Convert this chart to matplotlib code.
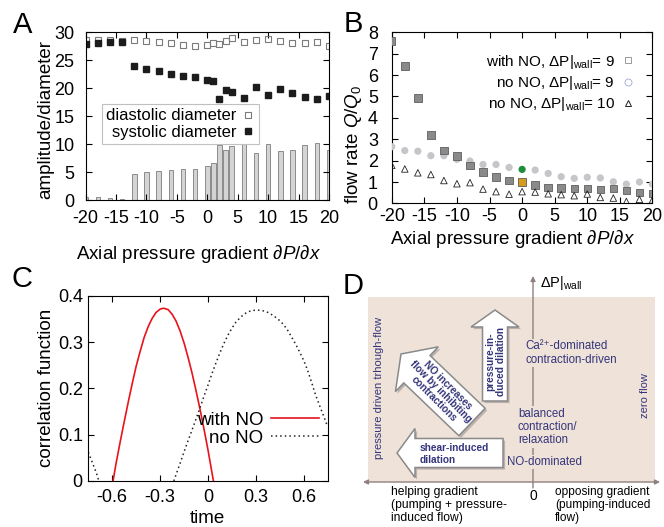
import matplotlib
matplotlib.use("Agg")
import matplotlib.pyplot as plt
import matplotlib.patheffects as pe
from matplotlib.lines import Line2D
from matplotlib.patches import Rectangle, FancyArrow

plt.rcParams["font.family"] = ["Liberation Sans", "DejaVu Sans"]
plt.rcParams["mathtext.fontset"] = "custom"
plt.rcParams["mathtext.rm"] = "Liberation Sans"
plt.rcParams["mathtext.it"] = "Liberation Sans:italic"
plt.rcParams["mathtext.bf"] = "Liberation Sans:bold"
plt.rcParams["axes.unicode_minus"] = False

# ---- panel A: diameters and amplitude vs axial gradient
grad_a = [-20, -18, -16, -14, -12, -10, -8, -6, -4, -2, 0, 1, 2, 3, 4,
          6, 8, 10, 12, 14, 16, 18, 20]
diastolic = [28.7, 28.6, 28.6, 28.5, 28.7, 28.4, 28.2, 28.0, 27.8, 27.6, 27.7,
             28.0, 27.9, 28.5, 28.9, 28.3, 28.6, 28.8, 28.5, 28.0, 28.1, 28.3, 27.6]
systolic = [27.9, 28.0, 28.2, 28.2, 23.9, 23.4, 23.0, 22.6, 22.1, 22.0, 21.5,
            21.3, 18.0, 19.6, 19.3, 18.2, 20.2, 18.8, 19.8, 19.1, 18.4, 18.0, 18.7]
amplitude = [0.6, 0.5, 0.35, 0.2, 4.7, 5.0, 5.2, 5.4, 5.6, 5.6, 6.1, 6.7, 9.9,
             9.0, 9.7, 10.2, 8.5, 10.0, 8.8, 8.9, 9.8, 10.2, 8.9]

# ---- panel B: flow rate
grad_b = [-20, -18, -16, -14, -12, -10, -8, -6, -4, -2, 0, 2, 4, 6, 8, 10,
          12, 14, 16, 18, 20]
q_with_no = [7.6, 6.43, 4.93, 3.2, 2.48, 2.22, 1.78, 1.47, 1.23, 1.08, 1.0,
             0.86, 0.75, 0.73, 0.69, 0.69, 0.66, 0.69, 0.61, 0.51, 0.47]
q_no_no_9 = [2.65, 2.47, 2.44, 2.23, 2.23, 2.06, 1.98, 1.82, 1.82, 1.68, 1.59,
             1.56, 1.40, 1.25, 1.17, 1.22, 1.19, 1.01, 0.90, 1.0, 0.90]
q_no_no_10 = [1.78, 1.61, 1.43, 1.35, 1.07, 0.92, 0.97, 0.67, 0.55, 0.43, 0.55,
              0.53, 0.45, 0.41, 0.36, 0.44, 0.28, 0.25, 0.09, 0.19, 0.16]
labels_b = ["with NO, ΔP$|_{\\rm wall}$= 9", "no NO, ΔP$|_{\\rm wall}$= 9",
            "no NO, ΔP$|_{\\rm wall}$= 10"]

# ---- panel C: correlation functions
t_with = [-0.595, -0.575, -0.55, -0.525, -0.5, -0.475, -0.45, -0.425, -0.4,
          -0.375, -0.35, -0.325, -0.3, -0.278, -0.25, -0.225, -0.2, -0.175,
          -0.15, -0.125, -0.1, -0.075, -0.05, -0.025, 0.0, 0.034]
c_with = [0.0, 0.04, 0.085, 0.128, 0.17, 0.21, 0.248, 0.28, 0.31, 0.333, 0.351,
          0.364, 0.371, 0.373, 0.37, 0.36, 0.345, 0.324, 0.298, 0.267, 0.233,
          0.195, 0.155, 0.112, 0.067, 0.0]
t_no = [-0.75, -0.725, -0.70, -0.684, None, -0.214, -0.2, -0.175, -0.15,
        -0.125, -0.1, -0.075, -0.05, -0.025, 0.0, 0.025, 0.05, 0.075, 0.1,
        0.125, 0.15, 0.175, 0.2, 0.225, 0.25, 0.275, 0.31, 0.35, 0.375, 0.4,
        0.425, 0.45, 0.475, 0.5, 0.525, 0.55, 0.575, 0.6, 0.625, 0.65, 0.675,
        0.7, 0.725, 0.75]
c_no = [0.062, 0.04, 0.018, 0.0, None, 0.0, 0.014, 0.038, 0.063, 0.087, 0.11,
        0.134, 0.158, 0.183, 0.207, 0.232, 0.255, 0.277, 0.297, 0.315, 0.33,
        0.343, 0.352, 0.36, 0.365, 0.368, 0.369, 0.367, 0.364, 0.359, 0.353,
        0.346, 0.337, 0.325, 0.31, 0.295, 0.278, 0.26, 0.238, 0.212, 0.185,
        0.162, 0.14, 0.117]
t_no = [float("nan") if v is None else v for v in t_no]
c_no = [float("nan") if v is None else v for v in c_no]

fs_tick = 13
fs_lab = 13.5

fig = plt.figure(figsize=(6.64, 5.27), dpi=100)


def style(ax, xpad, ypad):
    ax.tick_params(direction="in", top=True, right=True, length=4, width=0.8,
                   labelsize=fs_tick)
    ax.tick_params(axis="x", pad=xpad)
    ax.tick_params(axis="y", pad=ypad)
    for s in ax.spines.values():
        s.set_linewidth(0.8)


xlab = r"Axial pressure gradient $\partial P/\partial x$"

# ---------------- A
ax = fig.add_axes([0.129, 0.620, 0.3664, 0.3188])
ax.bar(grad_a, amplitude, width=0.75, color="#d4d4d4", edgecolor="#8c8c8c",
       linewidth=0.7)
ax.plot(grad_a, diastolic, ls="none", marker="s", ms=4, mfc="none",
        mec="#7a7a7a", mew=0.8)
ax.plot(grad_a, systolic, ls="none", marker="s", ms=4.5, color="#1c1c1c")
ax.set_xlim(-20, 20)
ax.set_ylim(0, 30)
ax.set_xticks(range(-20, 21, 5))
ax.set_yticks(range(0, 31, 5))
style(ax, 7, 8)
ax.set_xlabel(xlab, fontsize=fs_lab)
ax.xaxis.set_label_coords(0.464, -0.254)
ax.set_ylabel("amplitude/diameter", fontsize=fs_lab)
ax.yaxis.set_label_coords(-0.13, 0.478)
hA = [Line2D([], [], ls="none", marker="s", ms=4, mfc="none", mec="#7a7a7a", mew=0.8),
      Line2D([], [], ls="none", marker="s", ms=4.5, color="#1c1c1c")]
leg = ax.legend(hA, ["diastolic diameter", "systolic diameter"], loc="upper left",
                bbox_to_anchor=(0.066, 0.571), borderaxespad=0, borderpad=0.25,
                handletextpad=0.3, handlelength=0.8, labelspacing=0.1,
                markerfirst=False, fancybox=False, framealpha=1,
                edgecolor="#c0c0c0", fontsize=12)
leg.get_frame().set_linewidth(0.8)

# ---------------- B
bx = fig.add_axes([0.590, 0.614, 0.3926, 0.3249])
col_circ = ["#c6c6ca"] * len(grad_b)
col_sq = ["#8a8a8a"] * len(grad_b)
col_circ[grad_b.index(0)] = "#1d8f3c"
col_sq[grad_b.index(0)] = "#d49b1c"
bx.scatter(grad_b, q_no_no_9, s=27, c=col_circ, marker="o", linewidths=0, zorder=3)
bx.scatter(grad_b, q_with_no, s=29, c=col_sq, marker="s", edgecolors="#5e5e5e",
           linewidths=0.6, zorder=4)
bx.scatter(grad_b, q_no_no_10, s=22, facecolors="none", marker="^",
           edgecolors="#222222", linewidths=0.6, zorder=5)
bx.set_xlim(-20, 20)
bx.set_ylim(0, 8)
bx.set_xticks(range(-20, 21, 5))
bx.set_yticks(range(0, 9))
style(bx, 3.6, 10)
bx.set_xlabel(xlab, fontsize=fs_lab)
bx.xaxis.set_label_coords(0.464, -0.143)
bx.set_ylabel(r"flow rate $Q/Q_0$", fontsize=fs_lab)
bx.yaxis.set_label_coords(-0.107, 0.345)
hB = [Line2D([], [], ls="none", marker="s", ms=5, mfc="none", mec="#9a9a9a", mew=0.7),
      Line2D([], [], ls="none", marker="o", ms=5, mfc="none", mec="#aab2d6", mew=0.7),
      Line2D([], [], ls="none", marker="^", ms=5, mfc="none", mec="#222222", mew=0.7)]
bx.legend(hB, labels_b, loc="upper right", bbox_to_anchor=(0.93, 0.88),
          borderaxespad=0, borderpad=0, handletextpad=0.45, handlelength=0.8,
          labelspacing=0.22, markerfirst=False, frameon=False, fontsize=11)

# ---------------- C
cx = fig.add_axes([0.133, 0.0873, 0.3605, 0.3516])
cx.plot(t_with, c_with, color="#e8141c", lw=1.2, label="with NO")
cx.plot(t_no, c_no, color="#222222", lw=1.1, ls=(0, (1, 2)), label="no NO")
cx.set_xlim(-0.75, 0.75)
cx.set_ylim(0, 0.4)
cx.set_xticks([-0.6, -0.3, 0, 0.3, 0.6], ["-0.6", "-0.3", "0", "0.3", "0.6"])
cx.set_yticks([0, 0.1, 0.2, 0.3, 0.4], ["0", "0.1", "0.2", "0.3", "0.4"])
style(cx, 6, 4)
cx.set_xlabel("time", fontsize=fs_lab)
cx.xaxis.set_label_coords(0.498, -0.156)
cx.set_ylabel("correlation function", fontsize=fs_lab)
cx.yaxis.set_label_coords(-0.14, 0.5)
cx.legend(loc="upper right", bbox_to_anchor=(0.965, 0.375), borderaxespad=0,
          borderpad=0, handletextpad=0.4, handlelength=2.6, labelspacing=0.05,
          markerfirst=False, frameon=False, fontsize=13.5)

# ---------------- D (schematic)
dx = fig.add_axes([340 / 664, 0, 324 / 664, 257 / 527])
dx.set_xlim(340, 664)
dx.set_ylim(527, 270)
dx.axis("off")
navy = "#34357a"
axis_col = "#8f807e"
dx.add_patch(Rectangle((368, 297), 287, 185, fc="#efe2d9", ec="none", zorder=0))
dx.annotate("", xy=(660, 482), xytext=(363, 482),
            arrowprops=dict(arrowstyle="<|-|>", color=axis_col, lw=1,
                            mutation_scale=7, shrinkA=0, shrinkB=0))
dx.annotate("", xy=(533, 276), xytext=(533, 488),
            arrowprops=dict(arrowstyle="-|>", color=axis_col, lw=1,
                            mutation_scale=7, shrinkA=0, shrinkB=0))
dx.text(540, 283, "ΔP$|_{\\rm wall}$", fontsize=10.5, va="center", ha="left")
dx.text(533, 496, "0", fontsize=10, ha="center", va="center")
dx.text(391, 486, "helping gradient\n(pumping + pressure-\ninduced flow)",
        fontsize=8.7, ha="left", va="top", linespacing=1.12)
dx.text(555, 486, "opposing gradient\n(pumping-induced\nflow)",
        fontsize=8.6, ha="left", va="top", linespacing=1.12)

box = dict(fc="#efe2d9", ec="none", pad=1)
dx.text(525, 353, "Ca²⁺-dominated\ncontraction-driven", color=navy,
        fontsize=8.3, ha="left", va="center", linespacing=1.15, bbox=box)
dx.text(518, 427, "balanced\ncontraction/\nrelaxation", color=navy,
        fontsize=8.3, ha="left", va="center", linespacing=1.15, bbox=box)
dx.text(507, 462, "NO-dominated", color=navy, fontsize=8.3, ha="left",
        va="center", bbox=box)
dx.text(379, 388, "pressure driven trhough-flow", color=navy, fontsize=8,
        rotation=90, ha="center", va="center")
dx.text(645, 396, "zero flow", color=navy, fontsize=8, rotation=90,
        ha="center", va="center")

shadow = [pe.SimplePatchShadow(offset=(1.5, -1.5), shadow_rgbFace="#8a8080",
                               alpha=0.5), pe.Normal()]
arr_kw = dict(length_includes_head=True, fc="white", ec="#8a8a8a", lw=1.1,
              zorder=3)
a1 = FancyArrow(503, 453, -106, 0, width=29, head_width=49, head_length=18, **arr_kw)
a2 = FancyArrow(495, 401, 0, -91, width=25, head_width=48, head_length=17, **arr_kw)
a3 = FancyArrow(472, 422, -71, -68, width=38, head_width=62, head_length=22, **arr_kw)
for a in (a1, a2, a3):
    a.set_path_effects(shadow)
    dx.add_patch(a)
dx.text(420, 454, "shear-induced\ndilation", color=navy, fontsize=7.3,
        fontweight="bold", ha="left", va="center", linespacing=1.2, zorder=4)
dx.text(496, 362, "pressure-in-\nduced dilation", color=navy, fontsize=7.3,
        fontweight="bold", rotation=90, ha="center", va="center",
        linespacing=1.1, zorder=4)
dx.text(441, 392, "NO increases\nflow by inhibiting\ncontractions", color=navy,
        fontsize=7.2, fontweight="bold", rotation=-45, rotation_mode="anchor",
        ha="center", va="center", linespacing=1.0, zorder=4)

# panel letters
for letter, px, py in [("A", 23, 25), ("B", 353, 24), ("C", 22, 279), ("D", 353, 286)]:
    fig.text(px / 664, 1 - py / 527, letter, fontsize=21, ha="center", va="center")

fig.savefig("out.png", dpi=100)
